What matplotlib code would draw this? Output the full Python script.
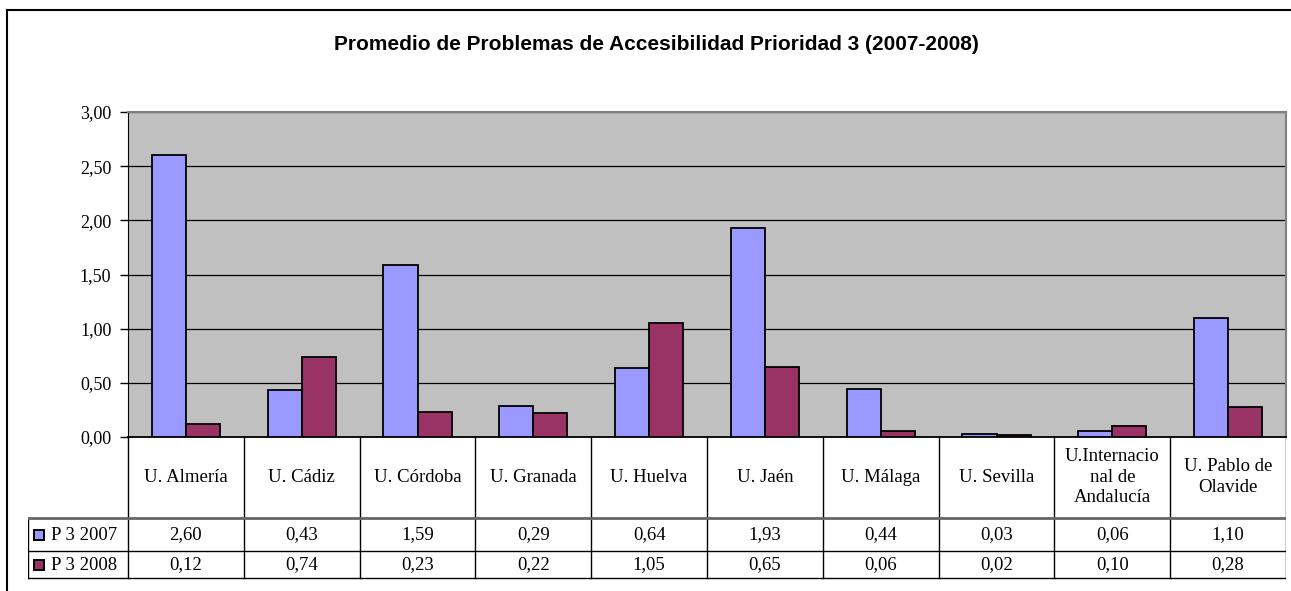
import numpy as np
import matplotlib
matplotlib.use("Agg")
from matplotlib import pyplot as plt
from matplotlib.patches import Rectangle
from matplotlib.lines import Line2D

# data
universidades = ["U. Almería", "U. Cádiz", "U. Córdoba", "U. Granada", "U. Huelva",
                 "U. Jaén", "U. Málaga", "U. Sevilla", "U.Internacio\nnal de\nAndalucía",
                 "U. Pablo de\nOlavide"]
p3_2007 = [2.60, 0.43, 1.59, 0.29, 0.64, 1.93, 0.44, 0.03, 0.06, 1.10]
p3_2008 = [0.12, 0.74, 0.23, 0.22, 1.05, 0.65, 0.06, 0.02, 0.10, 0.28]
series = ["P 3 2007", "P 3 2008"]
colores = ["#9999FF", "#993366"]
yticks = [0.0, 0.5, 1.0, 1.5, 2.0, 2.5, 3.0]

W, H = 1291, 591
fig = plt.figure(figsize=(W / 100, H / 100), dpi=100)

def fx(px):
    return px / W

def fy(py):
    return 1 - py / H

# outer chart frame, only top and left edges are inside the image
fig.add_artist(Line2D([fx(7), 1.0], [fy(10), fy(10)], color="black", lw=1.5))
fig.add_artist(Line2D([fx(7), fx(7)], [fy(10), 0.0], color="black", lw=1.5))

fig.text(fx(656), fy(45), "Promedio de Problemas de Accesibilidad Prioridad 3 (2007-2008)",
         ha="center", va="center", fontsize=15, fontweight="bold",
         family="Liberation Sans")

left, right, top, bottom = 128, 1286, 112, 437
ax = fig.add_axes([fx(left), fy(bottom), fx(right - left), fy(top) - fy(bottom)])
ax.set_facecolor("#C0C0C0")

n = len(universidades)
x = np.arange(n)
bw = 0.295
ax.bar(x - bw / 2, p3_2007, bw, color=colores[0], edgecolor="black", lw=1.3, zorder=3)
ax.bar(x + bw / 2, p3_2008, bw, color=colores[1], edgecolor="black", lw=1.3, zorder=3)

ax.set_xlim(-0.5, n - 0.5)
ax.set_ylim(0, 3.0)
ax.set_yticks(yticks)
ax.set_yticklabels([f"{v:.2f}".replace(".", ",") for v in yticks],
                   family="Liberation Serif", fontsize=13)
ax.yaxis.grid(True, color="black", lw=0.9)
ax.set_axisbelow(True)
ax.tick_params(axis="y", direction="out", length=6, width=1, pad=6)
ax.set_xticks([])
for s in ["top", "right"]:
    ax.spines[s].set_color("#808080")
    ax.spines[s].set_linewidth(1.5)
ax.spines["left"].set_color("black")
ax.spines["bottom"].set_color("black")
ax.spines["bottom"].set_linewidth(1.3)

# data table below the plot
cw = (right - left) / n
tab_left = 28
tab = fig.add_axes([fx(tab_left), fy(580), fx(right - tab_left), fy(bottom) - fy(580)])
tab.set_xlim(-0.5 - (left - tab_left) / cw, n - 0.5)
tab.set_ylim(580, bottom)
tab.axis("off")
x0 = tab.get_xlim()[0]

for i in range(n + 1):
    tab.plot([i - 0.5, i - 0.5], [bottom, 578], color="black", lw=1)
tab.plot([x0, x0], [518, 578], color="black", lw=1)
tab.plot(tab.get_xlim(), [518, 518], color="#666666", lw=2)
tab.plot(tab.get_xlim(), [551, 551], color="black", lw=1)
tab.plot(tab.get_xlim(), [578, 578], color="black", lw=1)

for i, lab in enumerate(universidades):
    tab.text(i, 477, lab, ha="center", va="center", fontsize=13.5,
             family="Liberation Serif", linespacing=1.25)

for r, (vals, name, col) in enumerate(zip([p3_2007, p3_2008], series, colores)):
    yc = [535, 565][r]
    for i, v in enumerate(vals):
        tab.text(i, yc, f"{v:.2f}".replace(".", ","), ha="center", va="center",
                 fontsize=13.5, family="Liberation Serif")
    tab.add_patch(Rectangle((x0 + 6 / cw, yc + 5), 10 / cw, -10, fc=col, ec="black", lw=1.4))
    tab.text(x0 + 23 / cw, yc, name, ha="left", va="center", fontsize=13.5,
             family="Liberation Serif")

fig.savefig("out.png", dpi=100)
